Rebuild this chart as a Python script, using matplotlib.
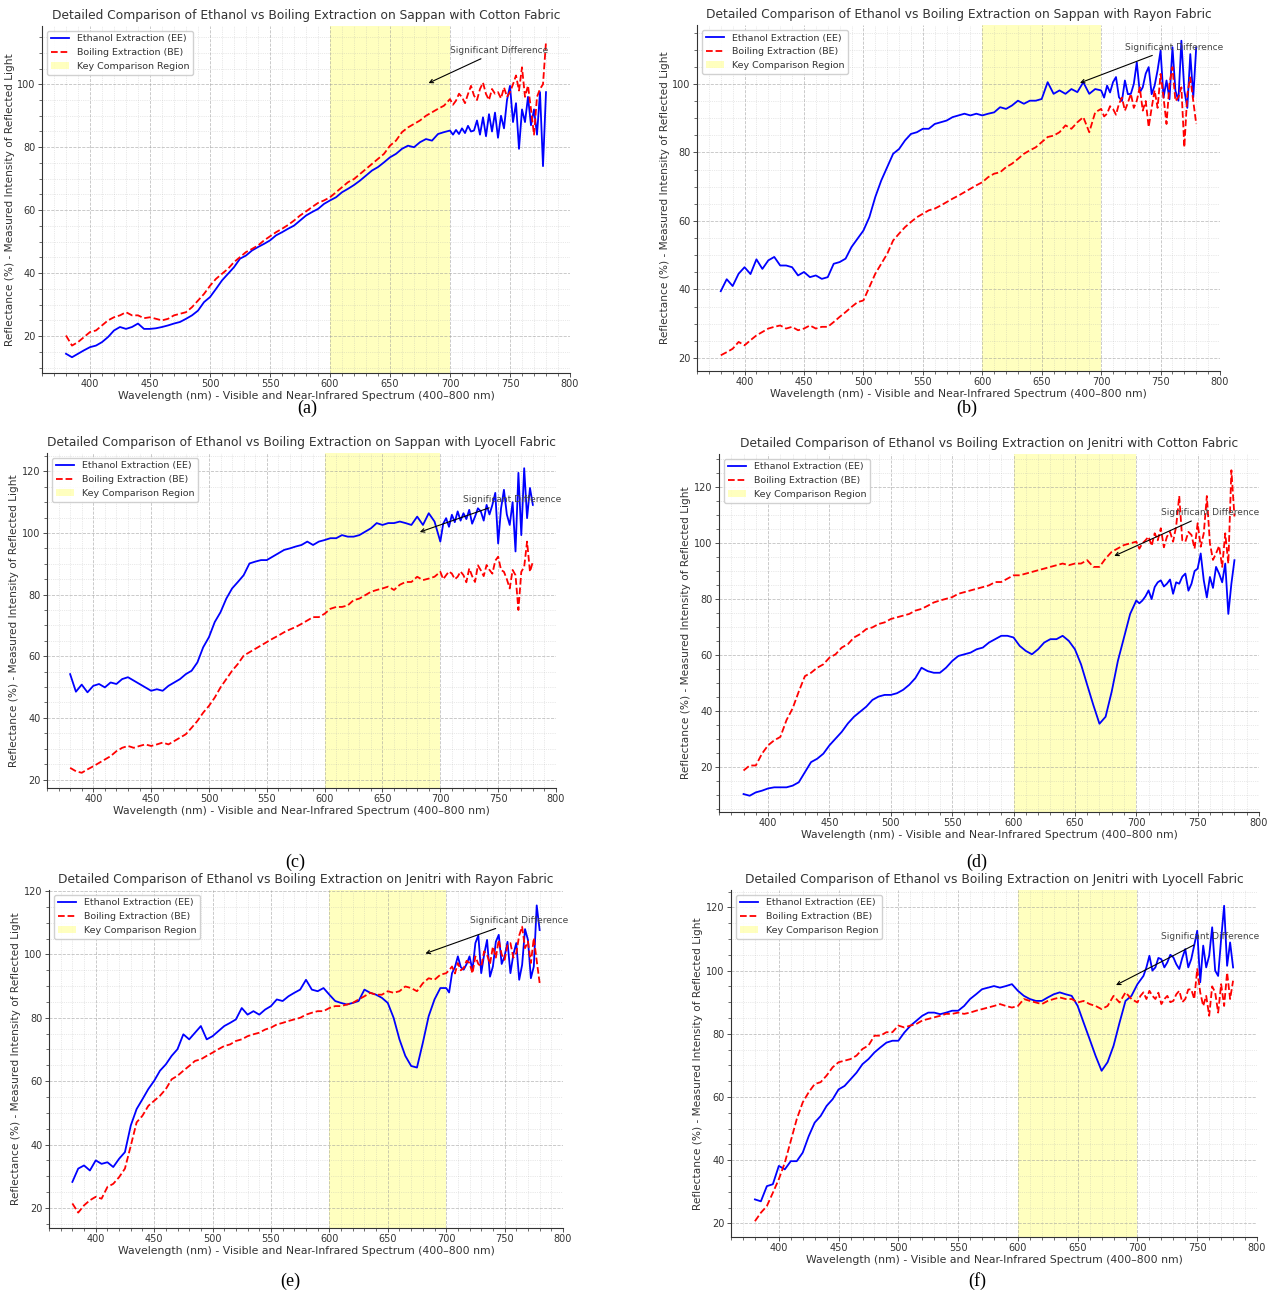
import numpy as np
import matplotlib.pyplot as plt

# wavelength grid: 5 nm steps up to 700 nm, 2.5 nm steps in the noisy NIR end
wavelength = np.concatenate([np.arange(380, 700, 5), np.arange(700, 780.1, 2.5)])

# (a) Sappan - Cotton
ee_sappan_cotton = [14.4, 13.3, 14.4, 15.5, 16.5,
                    17.0, 18.1, 19.7, 21.8, 22.9, 22.3, 22.9, 24.0, 22.3, 22.3,
                    22.5, 22.9, 23.4, 24.0, 24.5, 25.5, 26.6, 28.1, 30.8, 32.4,
                    35.0, 37.7, 39.8, 41.9, 44.6, 45.6, 47.2, 48.3, 49.3, 50.4,
                    52.0, 53.0, 54.1, 55.1, 56.7, 58.3, 59.4, 60.4, 62.0, 63.1,
                    64.1, 65.7, 66.8, 68.0, 69.4, 71.0, 72.6, 73.7, 75.2, 76.8,
                    77.9, 79.5, 80.5, 80.0, 81.6, 82.6, 82.1, 84.2, 84.8,
                    85.3, 84.0, 85.5, 84.2, 86.0, 84.5, 86.8, 85.0, 85.3, 88.5, 84.0,
                    89.5, 83.5, 90.5, 85.0, 91.0, 83.0, 90.0, 86.0, 95.0, 99.5, 88.0,
                    94.0, 79.5, 92.0, 88.0, 96.0, 87.0, 92.0, 84.0, 97.5, 74.0, 97.5]
be_sappan_cotton = [20.2, 17.0, 18.1, 19.7, 21.3,
                    21.8, 23.4, 25.0, 26.0, 26.6, 27.6, 26.6, 26.6, 25.7, 26.0,
                    25.5, 25.0, 25.5, 26.6, 27.1, 27.6, 29.2, 31.3, 33.4, 36.0,
                    38.2, 39.8, 41.4, 43.5, 45.1, 46.7, 47.7, 48.8, 50.4, 51.7,
                    53.0, 54.1, 55.3, 56.7, 58.3, 59.6, 61.0, 62.3, 63.1, 64.1,
                    65.7, 67.3, 68.9, 69.9, 71.5, 73.1, 74.7, 76.3, 77.9, 80.5,
                    82.1, 84.8, 86.3, 87.4, 88.5, 90.0, 91.1, 92.2, 93.2,
                    95.3, 93.5, 94.8, 97.0, 95.9, 94.0, 96.9, 99.5, 96.4, 95.0, 98.5,
                    100.5, 96.9, 95.0, 98.5, 97.0, 97.5, 95.5, 99.0, 96.0, 97.5, 100.0,
                    102.8, 98.0, 105.4, 96.0, 99.6, 92.0, 84.0, 96.0, 98.5, 100.0, 113.5]

# (b) Sappan - Rayon
ee_sappan_rayon = [39.5, 43.0, 41.0, 44.6, 46.5,
                   44.5, 48.8, 46.0, 48.5, 49.5, 47.0, 47.0, 46.5, 44.1, 45.1,
                   43.6, 44.1, 43.1, 43.6, 47.5, 48.0, 49.0, 52.4, 54.8, 57.2,
                   61.1, 67.0, 71.8, 75.7, 79.6, 81.0, 83.5, 85.4, 85.9, 86.9,
                   86.9, 88.3, 88.8, 89.3, 90.3, 90.8, 91.3, 90.8, 91.3, 90.8,
                   91.3, 91.7, 93.2, 92.7, 93.7, 95.1, 94.2, 95.1, 95.1, 95.6,
                   100.5, 97.1, 98.1, 97.1, 98.5, 97.6, 100.5, 97.1, 98.5,
                   98.1, 96.0, 99.5, 97.5, 100.5, 102.0, 96.1, 95.0, 101.0, 97.0, 97.1,
                   100.0, 106.3, 97.5, 99.0, 103.0, 104.9, 97.0, 99.5, 104.0, 109.7, 96.0,
                   101.0, 95.5, 110.7, 98.0, 95.1, 112.6, 98.1, 93.0, 108.7, 96.1, 110.7]
be_sappan_rayon = [20.8, 21.7, 22.7, 24.7, 23.7,
                   25.2, 26.6, 27.6, 28.6, 29.1, 29.5, 28.6, 29.1, 28.1, 28.6,
                   29.5, 28.6, 29.1, 29.1, 30.5, 32.0, 33.4, 34.9, 36.3, 36.8,
                   40.7, 44.6, 47.5, 50.4, 54.3, 56.3, 58.2, 59.7, 61.1, 62.1,
                   63.1, 63.6, 64.5, 65.5, 66.5, 67.4, 68.4, 69.4, 70.4, 71.3,
                   72.8, 73.8, 74.2, 75.7, 76.7, 78.1, 79.6, 80.6, 81.5, 83.0,
                   84.5, 84.9, 85.9, 87.9, 86.9, 88.8, 90.3, 85.9, 91.7,
                   92.7, 90.5, 91.3, 93.5, 92.7, 91.0, 94.2, 96.0, 92.2, 94.5, 97.1,
                   93.0, 95.1, 99.0, 92.2, 95.0, 87.4, 93.0, 98.1, 93.0, 102.9, 96.0,
                   88.3, 100.0, 104.9, 95.0, 96.1, 99.0, 81.5, 97.0, 101.9, 95.0, 88.3]

# (c) Sappan - Lyocell
ee_sappan_lyocell = [54.2, 48.5, 50.8, 48.3, 50.4,
                     51.0, 49.9, 51.5, 51.0, 52.6, 53.2, 52.1, 51.0, 49.9, 48.8,
                     49.3, 48.8, 50.4, 51.5, 52.6, 54.2, 55.3, 58.0, 62.9, 66.2,
                     71.1, 74.3, 78.7, 82.0, 84.1, 86.3, 90.1, 90.7, 91.2, 91.2,
                     92.3, 93.4, 94.5, 95.0, 95.6, 96.1, 97.2, 96.1, 97.2, 97.7,
                     98.3, 98.3, 99.3, 98.8, 98.8, 99.3, 100.4, 101.5, 103.2, 102.6,
                     103.2, 103.2, 103.7, 103.2, 102.6, 105.3, 102.6, 106.4, 103.7,
                     97.2, 103.0, 104.8, 102.0, 105.9, 103.5, 107.0, 104.0, 106.4, 104.5, 107.5,
                     103.0, 105.3, 108.0, 107.0, 104.0, 109.1, 106.0, 109.1, 113.0, 96.6, 108.0,
                     114.0, 106.0, 102.6, 110.0, 94.0, 119.5, 99.3, 121.0, 104.8, 114.6, 109.1]
be_sappan_lyocell = [23.8, 22.7, 22.2, 23.3, 24.3,
                     25.4, 26.5, 27.6, 29.2, 30.3, 30.9, 30.3, 30.9, 31.4, 30.9,
                     31.4, 32.0, 31.4, 32.5, 33.6, 34.7, 36.8, 39.0, 41.7, 43.9,
                     46.6, 49.9, 52.6, 55.3, 57.5, 60.2, 61.3, 62.4, 63.5, 64.6,
                     65.7, 66.7, 67.8, 68.7, 69.5, 70.5, 71.6, 72.7, 72.7, 73.8,
                     75.4, 76.0, 76.0, 76.5, 78.2, 78.7, 79.8, 80.9, 81.5, 82.0,
                     82.6, 81.5, 83.2, 84.1, 84.1, 85.8, 84.7, 85.2, 85.8,
                     87.4, 85.0, 86.3, 87.5, 86.8, 85.0, 85.8, 87.5, 86.3, 84.0, 88.5,
                     86.0, 84.1, 89.5, 87.9, 86.0, 89.6, 88.0, 86.8, 91.0, 92.3, 88.0,
                     87.4, 85.0, 82.0, 88.0, 86.3, 75.0, 87.4, 89.0, 97.2, 87.4, 90.7]

# (d) Jenitri - Cotton
ee_jenitri_cotton = [10.4, 9.8, 11.0, 11.6, 12.4,
                     12.8, 12.8, 12.8, 13.4, 14.6, 18.2, 21.8, 23.0, 24.8, 27.8,
                     30.2, 32.6, 35.6, 38.0, 39.8, 41.6, 44.0, 45.2, 45.8, 45.8,
                     46.4, 47.6, 49.4, 51.8, 55.5, 54.3, 53.7, 53.7, 55.5, 57.9,
                     59.7, 60.3, 60.9, 62.1, 62.7, 64.5, 65.7, 66.9, 66.9, 66.3,
                     63.3, 61.5, 60.3, 62.1, 64.5, 65.7, 65.7, 66.9, 65.1, 62.1,
                     56.7, 49.4, 42.2, 35.5, 38.0, 47.0, 57.9, 66.3, 74.7,
                     79.5, 78.5, 79.5, 81.0, 83.1, 80.0, 84.3, 86.0, 86.7, 84.5, 85.5,
                     87.0, 81.9, 86.0, 85.5, 88.0, 89.1, 83.0, 85.5, 90.0, 90.9, 96.3,
                     86.7, 80.6, 87.9, 84.0, 91.5, 89.1, 86.0, 92.7, 74.7, 85.5, 93.9]
be_jenitri_cotton = [18.8, 20.6, 20.6, 24.8, 27.8,
                     29.6, 30.8, 36.8, 41.0, 47.0, 52.5, 53.7, 55.5, 56.7, 59.1,
                     60.3, 62.7, 63.9, 66.3, 67.5, 69.3, 69.9, 71.1, 71.7, 72.9,
                     73.5, 74.1, 74.7, 75.9, 76.5, 77.6, 78.8, 79.5, 80.1, 80.7,
                     81.9, 82.5, 83.1, 83.7, 84.3, 84.9, 86.1, 86.1, 87.3, 88.5,
                     88.5, 89.1, 89.7, 90.3, 90.9, 91.5, 92.1, 92.7, 92.1, 92.7,
                     92.7, 93.9, 91.5, 91.5, 94.5, 96.9, 98.1, 99.3, 99.9,
                     100.5, 98.0, 99.9, 101.0, 102.3, 99.0, 103.5, 101.0, 105.3, 98.5, 102.3,
                     104.0, 100.5, 106.0, 116.8, 101.0, 100.5, 104.0, 102.9, 98.0, 107.1, 98.7,
                     103.5, 116.8, 99.9, 94.0, 96.3, 99.0, 91.5, 103.5, 92.7, 126.0, 109.5]

# (e) Jenitri - Rayon
ee_jenitri_rayon = [28.2, 32.4, 33.4, 31.8, 35.0,
                    33.9, 34.4, 32.9, 35.5, 37.6, 46.0, 51.2, 54.3, 57.5, 60.1,
                    63.3, 65.3, 68.0, 70.1, 74.8, 73.2, 75.3, 77.4, 73.2, 74.2,
                    75.8, 77.4, 78.4, 79.5, 83.1, 81.0, 82.1, 81.0, 82.6, 83.7,
                    85.8, 85.3, 86.8, 87.9, 88.9, 92.0, 88.9, 88.4, 89.4, 87.3,
                    85.3, 84.7, 84.2, 84.7, 85.3, 88.9, 87.9, 87.3, 86.3, 84.7,
                    80.0, 73.2, 68.0, 64.8, 64.3, 72.1, 80.5, 85.8, 89.4,
                    89.4, 88.0, 94.1, 96.0, 99.4, 96.0, 95.2, 97.0, 99.4, 95.0, 103.6,
                    106.0, 94.1, 100.0, 104.6, 93.0, 96.2, 104.0, 106.2, 97.0, 99.4, 104.0,
                    94.1, 100.0, 103.6, 92.0, 96.7, 108.0, 104.6, 92.5, 96.2, 115.5, 107.7]
be_jenitri_rayon = [21.4, 18.5, 20.8, 22.4, 23.5,
                    22.9, 26.6, 27.6, 29.7, 32.4, 39.6, 47.0, 49.1, 52.2, 53.8,
                    55.4, 57.5, 60.6, 61.7, 63.3, 64.8, 66.4, 66.9, 68.0, 69.0,
                    70.1, 71.1, 71.6, 72.7, 73.2, 74.2, 74.8, 75.3, 76.3, 76.9,
                    77.9, 78.4, 79.0, 79.5, 80.0, 81.0, 81.6, 82.1, 82.1, 83.1,
                    83.7, 83.7, 84.2, 84.7, 85.8, 86.8, 87.9, 87.3, 87.3, 88.4,
                    87.9, 88.4, 89.9, 89.4, 88.4, 90.9, 92.5, 92.0, 93.6,
                    94.1, 95.0, 96.2, 94.0, 97.3, 95.0, 95.7, 98.0, 97.3, 94.0, 99.4,
                    97.0, 96.2, 101.0, 99.9, 97.0, 102.5, 99.0, 104.6, 100.0, 98.3, 103.0,
                    103.6, 99.0, 100.4, 106.0, 108.8, 102.0, 104.1, 97.3, 105.2, 98.0, 91.0]

# (f) Jenitri - Lyocell
ee_jenitri_lyocell = [27.6, 27.0, 31.8, 32.4, 38.2,
                      37.1, 39.7, 39.7, 42.4, 47.6, 51.9, 54.0, 57.2, 59.3, 62.4,
                      63.5, 65.6, 67.7, 70.4, 72.0, 74.1, 75.7, 77.2, 77.8, 77.8,
                      80.4, 82.5, 84.1, 85.7, 86.7, 86.7, 86.2, 86.7, 87.3, 87.3,
                      88.8, 91.0, 92.5, 94.1, 94.6, 95.1, 94.6, 95.1, 95.7, 93.6,
                      92.0, 91.0, 90.4, 90.4, 91.5, 92.5, 93.1, 92.5, 92.0, 88.8,
                      83.5, 78.3, 73.0, 68.3, 71.0, 76.2, 83.5, 90.4, 92.0,
                      95.7, 97.0, 98.3, 101.0, 104.7, 100.0, 101.0, 104.0, 103.6, 101.0, 102.6,
                      105.0, 104.2, 102.0, 100.5, 104.0, 106.8, 101.0, 103.6, 108.0, 112.6, 96.3,
                      107.9, 101.0, 104.7, 113.7, 100.0, 98.3, 110.0, 120.5, 101.5, 108.9, 101.0]
be_jenitri_lyocell = [20.7, 23.4, 25.5, 29.7, 34.0,
                      39.2, 46.1, 53.0, 58.3, 61.5, 64.1, 64.7, 66.8, 69.4, 71.0,
                      71.5, 72.0, 73.1, 75.2, 76.3, 79.4, 79.4, 80.5, 80.5, 82.6,
                      82.0, 82.6, 83.1, 84.2, 84.7, 85.2, 85.7, 86.3, 86.3, 86.7,
                      86.3, 86.7, 87.3, 87.8, 88.3, 88.8, 89.4, 88.8, 88.3, 88.8,
                      91.0, 90.4, 89.9, 89.4, 90.4, 91.0, 91.5, 91.0, 91.0, 89.9,
                      90.4, 89.4, 88.8, 87.8, 88.8, 92.0, 89.9, 93.1, 91.0,
                      89.9, 92.0, 93.1, 91.0, 93.6, 92.0, 91.0, 93.0, 89.4, 91.0, 92.0,
                      90.0, 90.4, 92.5, 93.6, 90.0, 91.0, 94.0, 94.1, 91.0, 100.5, 93.1,
                      88.8, 92.0, 85.7, 95.0, 93.1, 86.7, 95.7, 88.8, 99.4, 91.0, 96.8]

titles = [
    'Detailed Comparison of Ethanol vs Boiling Extraction on Sappan with Cotton Fabric',
    'Detailed Comparison of Ethanol vs Boiling Extraction on Sappan with Rayon Fabric',
    'Detailed Comparison of Ethanol vs Boiling Extraction on Sappan with Lyocell Fabric',
    'Detailed Comparison of Ethanol vs Boiling Extraction on Jenitri with Cotton Fabric',
    'Detailed Comparison of Ethanol vs Boiling Extraction on Jenitri with Rayon Fabric',
    'Detailed Comparison of Ethanol vs Boiling Extraction on Jenitri with Lyocell Fabric',
]
panel_labels = ['(a)', '(b)', '(c)', '(d)', '(e)', '(f)']
ee_series = [ee_sappan_cotton, ee_sappan_rayon, ee_sappan_lyocell,
             ee_jenitri_cotton, ee_jenitri_rayon, ee_jenitri_lyocell]
be_series = [be_sappan_cotton, be_sappan_rayon, be_sappan_lyocell,
             be_jenitri_cotton, be_jenitri_rayon, be_jenitri_lyocell]
note_text_x = [700, 720, 720, 720, 720, 720]
note_target_y = [100, 100, 100, 95, 100, 95]

# axes boxes in pixels (left, top, right, bottom) of the 1270x1293 canvas
W, H = 1270, 1293
boxes_px = [(42, 26, 570, 373), (697, 25, 1220, 371),
            (47, 453, 556, 788), (719, 454, 1259, 812),
            (49, 890, 563, 1228), (731, 890, 1257, 1237)]
label_pos_px = [(307, 408), (967, 408), (295, 862), (977, 862), (290, 1281), (977, 1281)]

plt.rcParams['font.family'] = 'DejaVu Sans'
plt.rcParams['text.color'] = '#333333'
plt.rcParams['axes.labelcolor'] = '#333333'
plt.rcParams['xtick.color'] = '#333333'
plt.rcParams['ytick.color'] = '#333333'

fig = plt.figure(figsize=(W / 100, H / 100), dpi=100)

for i in range(6):
    l, t, r, b = boxes_px[i]
    ax = fig.add_axes([l / W, 1 - b / H, (r - l) / W, (b - t) / H])

    ax.plot(wavelength, ee_series[i], color='blue', lw=1.3, label='Ethanol Extraction (EE)')
    ax.plot(wavelength, be_series[i], color='red', lw=1.3, ls='--', label='Boiling Extraction (BE)')
    ax.axvspan(600, 700, color='yellow', alpha=0.25, lw=0, label='Key Comparison Region')

    ax.annotate('Significant Difference', xy=(680, note_target_y[i]),
                xytext=(note_text_x[i], 110), fontsize=6.5, color='#444444',
                arrowprops=dict(arrowstyle='->', color='black', lw=0.8))

    ax.set_title(titles[i], fontsize=8.8, color='#333333', pad=5)
    ax.set_xlabel('Wavelength (nm) - Visible and Near-Infrared Spectrum (400–800 nm)', fontsize=7.8, labelpad=1)
    ax.set_ylabel('Reflectance (%) - Measured Intensity of Reflected Light', fontsize=7.6, labelpad=2)
    ax.set_xticks(range(400, 801, 50))
    ax.minorticks_on()
    ax.tick_params(labelsize=7, length=3, width=0.6, pad=1.5)
    ax.tick_params(which='minor', length=2, width=0.5)
    ax.grid(which='major', ls='--', lw=0.6, color='#999999', alpha=0.6)
    ax.grid(which='minor', ls=':', lw=0.5, color='#aaaaaa', alpha=0.5)
    for side in ['top', 'right']:
        ax.spines[side].set_visible(False)
    for side in ['left', 'bottom']:
        ax.spines[side].set_color('#333333')
        ax.spines[side].set_linewidth(0.8)
    ax.legend(loc='upper left', fontsize=6.8, framealpha=0.9)

    lx, ly = label_pos_px[i]
    fig.text(lx / W, 1 - ly / H, panel_labels[i], ha='center', va='center',
             fontsize=13, family='Liberation Serif', color='black')

fig.savefig('out.png', dpi=100)
